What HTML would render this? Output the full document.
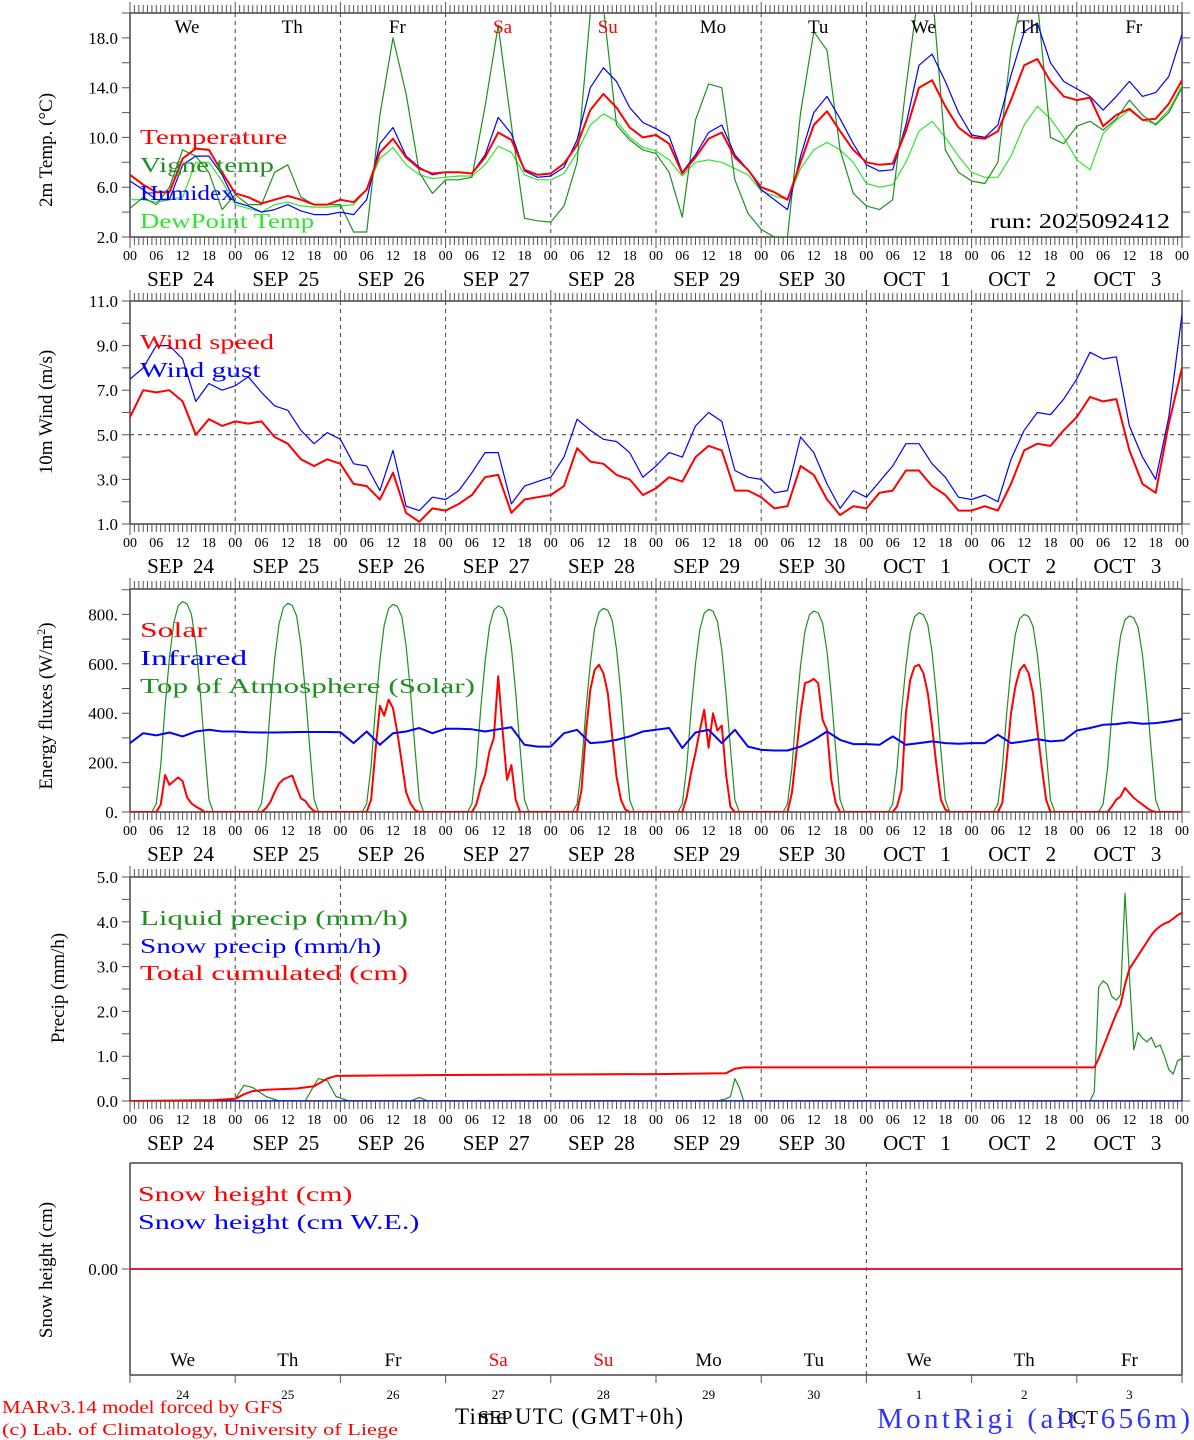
<!DOCTYPE html>
<html>
<head>
<meta charset="utf-8">
<style>
html,body{margin:0;padding:0;background:#fff;}
svg{display:block;}
text{font-family:"Liberation Serif",serif;}
</style>
</head>
<body>
<svg id="chart" width="1194" height="1440" viewBox="0 0 1194 1440" xmlns="http://www.w3.org/2000/svg"></svg>
<script>
// ---------------- DATA ----------------
const dayNames = ["We","Th","Fr","Sa","Su","Mo","Tu","We","Th","Fr"];
const dayNameColors = ["#000","#000","#000","#f00","#f00","#000","#000","#000","#000","#000"];
const dateLabels = ["SEP  24","SEP  25","SEP  26","SEP  27","SEP  28","SEP  29","SEP  30","OCT   1","OCT   2","OCT   3"];
const dayNumbers = ["24","25","26","27","28","29","30","1","2","3"];
const hourTickLabels = ["00","06","12","18"];

// Temperature panel (3-hourly, from SEP 24 00h)
const temperature = [7.0,6.2,5.6,5.6,8.3,9.1,9.0,7.2, 5.5,5.2,4.7,5.0,5.3,5.0,4.6,4.6, 5.0,4.8,5.8,8.8,9.9,8.4,7.5,7.1, 7.2,7.2,7.1,8.4,10.4,9.8,7.4,7.0, 7.1,7.9,9.4,12.2,13.5,12.4,10.8,10.0, 10.2,9.5,7.1,8.4,9.9,10.4,8.4,7.4, 6.0,5.6,5.0,8.0,11.0,12.1,10.5,9.0, 8.0,7.8,7.9,10.5,14.0,14.6,12.5,10.8, 10.0,9.9,10.5,13.0,15.8,16.3,14.5,13.3, 13.0,13.2,10.9,11.8,12.3,11.4,11.5,12.7,14.6];
const humidex = [6.5,5.8,5.0,5.0,7.8,8.5,8.5,7.0, 4.8,4.5,4.0,4.2,4.6,4.1,3.8,3.8, 4.0,3.8,5.0,9.5,10.8,8.5,7.6,7.0, 7.2,7.2,7.1,8.6,11.6,10.3,7.3,6.8, 6.9,7.6,9.8,14.0,15.6,14.5,12.4,11.2, 10.7,10.1,7.2,8.6,10.4,11.0,8.6,7.4, 5.8,5.0,4.2,8.5,12.0,13.3,11.5,9.5, 7.8,7.3,7.4,11.0,15.8,16.7,14.5,12.0, 10.2,10.0,11.0,15.0,18.5,19.2,16.0,14.5, 13.9,13.3,12.2,13.3,14.5,13.3,13.6,14.9,18.3];
const dewpoint = [5.0,5.0,4.8,5.0,5.2,8.0,8.0,6.5, 4.6,4.3,4.0,4.6,4.8,4.5,4.4,4.4, 4.5,4.6,5.8,8.3,9.2,7.8,7.0,6.7, 6.8,6.9,6.9,7.8,9.3,8.8,7.0,6.6, 6.6,7.1,8.8,11.0,11.9,11.3,10.0,9.2, 8.9,8.2,6.9,8.0,8.2,8.0,7.5,7.0, 5.7,5.3,5.0,7.5,9.0,9.6,9.0,8.0, 6.3,6.0,6.2,8.0,10.5,11.3,10.0,8.5, 7.2,6.8,6.8,8.5,11.0,12.5,11.5,10.0, 8.2,7.4,10.3,11.4,12.2,11.4,11.1,12.2,14.2];
const vigneTemp = [4.3,5.2,4.6,6.0,9.0,8.5,7.2,4.2, 5.4,4.6,4.6,7.2,7.8,5.2,4.6,4.6, 4.6,2.4,2.4,11.8,18.0,13.5,7.2,5.5, 6.6,6.6,6.8,12.5,19.0,11.0,3.5,3.3, 3.2,4.5,8.0,20.0,20.5,11.0,9.8,9.0, 8.7,7.2,3.6,11.4,14.3,14.0,6.6,3.9, 2.6,2.0,2.0,12.0,18.5,17.0,9.0,5.5, 4.5,4.2,5.0,14.0,22.0,22.0,9.0,7.2, 6.5,6.3,8.0,17.0,22.0,21.0,10.0,9.5, 10.9,11.3,10.6,11.5,13.0,11.8,11.0,12.0,14.0];

// Wind panel (3-hourly)
const windSpeed = [5.8,7.0,6.9,7.0,6.5,5.0,5.7,5.4, 5.6,5.5,5.6,4.9,4.6,3.9,3.6,3.9, 3.7,2.8,2.7,2.1,3.3,1.5,1.1,1.7, 1.6,1.9,2.3,3.1,3.2,1.5,2.1,2.2, 2.3,2.7,4.4,3.8,3.7,3.2,3.0,2.3, 2.6,3.1,2.9,4.0,4.5,4.3,2.5,2.5, 2.2,1.7,1.8,3.6,3.2,2.1,1.4,1.8, 1.7,2.4,2.5,3.4,3.4,2.7,2.3,1.6, 1.6,1.8,1.6,2.8,4.3,4.6,4.5,5.2, 5.8,6.7,6.5,6.6,4.3,2.8,2.4,5.5,8.0];
const windGust = [7.5,8.0,9.0,9.0,8.4,6.5,7.3,7.0, 7.2,7.6,6.9,6.3,6.1,5.2,4.6,5.1, 4.8,3.7,3.6,2.5,4.3,1.8,1.6,2.2, 2.1,2.5,3.3,4.2,4.2,1.9,2.7,2.9, 3.1,4.0,5.7,5.2,4.8,4.7,4.2,3.1, 3.6,4.2,4.0,5.4,6.0,5.6,3.4,3.1, 3.0,2.4,2.5,4.9,4.2,2.8,1.7,2.5, 2.2,2.9,3.6,4.6,4.6,3.7,3.1,2.2, 2.1,2.3,2.0,3.9,5.2,6.0,5.9,6.6, 7.5,8.7,8.4,8.5,5.4,4.0,3.0,5.8,10.4];
const windReference = 5.0;

// Energy panel: hourly values for hours 06..18 of each day
const solarByDay = [
 [0,30,150,110,125,140,125,60,35,22,12,0,0],
 [0,15,40,80,115,132,140,148,100,55,45,20,3],
 [0,50,250,430,390,455,420,320,200,80,35,8,0],
 [0,30,100,150,245,300,550,330,130,190,50,0,0],
 [0,90,320,495,575,596,562,481,306,144,50,10,0],
 [0,60,160,240,330,414,260,400,330,350,150,20,0],
 [0,77,239,400,522,528,539,521,373,333,130,36,0],
 [0,23,90,400,535,589,596,562,481,346,185,50,10],
 [0,36,211,400,508,575,596,562,481,333,185,50,0],
 [0,0,23,50,63,97,77,57,43,30,16,5,0]];
const toaByDay = [
 [34,187,426,622,767,835,852,843,801,682,494,264,51],
 [34,186,423,617,761,828,845,837,794,676,490,262,51],
 [34,185,421,614,757,824,841,833,791,673,488,261,50],
 [33,183,417,609,751,817,834,826,784,667,484,259,50],
 [33,182,413,602,743,809,825,817,776,660,479,256,50],
 [33,181,411,599,739,805,821,813,772,657,476,255,49],
 [33,179,407,594,733,798,814,806,765,651,472,252,49],
 [32,178,404,589,726,791,807,799,759,646,468,250,48],
 [32,176,400,584,720,784,800,792,752,640,464,248,48],
 [32,175,397,580,715,778,794,786,746,635,461,246,48]];
const infrared = [279,319,310,322,306,326,333,326, 326,323,322,322,323,324,324,324, 323,279,326,272,319,326,340,319, 337,337,335,326,335,343,272,265, 265,319,333,279,283,292,306,326, 333,340,259,322,333,279,333,265, 252,249,249,265,292,326,292,275, 275,272,306,272,279,286,279,276, 279,279,313,279,286,295,286,290, 330,340,353,356,363,357,360,367,376];

// Precip panel: (hour, value) pairs
const liquidHours = [0,20,24,26,28,31,34,40,42,43,45,47,50,64,66,68,134,136,137,138,139,140,216,217,218,219,220,221,222,223,224,225,226,227,228,229,230,231,232,233,234,235,236,237,238,239,240];
const liquidVals  = [0,0,0.05,0.35,0.3,0.1,0,0,0.35,0.5,0.45,0.1,0,0,0.08,0,0,0.05,0.1,0.5,0.3,0,0,0,0,0,0.2,2.55,2.68,2.6,2.33,2.25,2.37,4.64,2.8,1.14,1.53,1.4,1.32,1.42,1.2,1.25,1.0,0.7,0.6,0.9,0.95];
const totalHours = [0,19,24,26,28,31,38,42,45,47,72,120,136,138,140,220,221,222,223,224,225,226,227,228,229,230,231,232,233,234,235,236,237,238,239,240];
const totalVals  = [0,0.02,0.05,0.15,0.22,0.25,0.28,0.33,0.5,0.56,0.58,0.6,0.62,0.72,0.75,0.75,0.95,1.2,1.45,1.7,1.95,2.15,2.6,2.95,3.1,3.25,3.4,3.55,3.7,3.82,3.9,3.96,4.0,4.07,4.15,4.2];
const snowPrecipHours = [0,240];
const snowPrecipVals = [0,0];

// Snow panel (daily)
const snowHeight = [0,0,0,0,0,0,0,0,0,0,0];
const snowWE = [0,0,0,0,0,0,0,0,0,0,0];

// ---------------- LAYOUT ----------------
const NS = 'http://www.w3.org/2000/svg';
const svg = document.getElementById('chart');
const X0 = 130, X1 = 1182, HOURS = 240;
function xh(h){ return X0 + h*(X1-X0)/HOURS; }
const pTemp = {top:13,bottom:237,min:2,max:20,minor:2,major:[2,6,10,14,18],fmt:v=>v.toFixed(1)};
const pWind = {top:301,bottom:524,min:1,max:11,minor:1,major:[1,3,5,7,9,11],fmt:v=>v.toFixed(1)};
const pEn   = {top:589,bottom:812,min:0,max:903,minor:100,major:[0,200,400,600,800],fmt:v=>v.toFixed(0)+'.'};
const pPr   = {top:877,bottom:1101,min:0,max:5,minor:0.5,major:[0,1,2,3,4,5],fmt:v=>v.toFixed(1)};
function ys(p,v){ return p.bottom - (v-p.min)/(p.max-p.min)*(p.bottom-p.top); }

function el(tag, parent){ const e=document.createElementNS(NS,tag); (parent||svg).appendChild(e); return e; }
function line(x1,y1,x2,y2,stroke,w,parent){
  const e=el('line',parent);
  e.setAttribute('x1',x1);e.setAttribute('y1',y1);e.setAttribute('x2',x2);e.setAttribute('y2',y2);
  e.setAttribute('stroke',stroke);e.setAttribute('stroke-width',w);
  return e;
}
function text(str,x,y,size,fill,anchor,parent){
  const e=el('text',parent);
  e.setAttribute('x',x);e.setAttribute('y',y);e.setAttribute('font-size',size);
  e.setAttribute('fill',fill);e.setAttribute('text-anchor',anchor||'start');
  e.textContent=str;
  return e;
}

let clipId=0;
function frame(p, pname, withDates){
  const g=el('g');
  
  
  for(let d=1; d<10; d++){
    const l=line(xh(d*24),p.top,xh(d*24),p.bottom,'#444',1,g);
    l.setAttribute('stroke-dasharray','4,4');
    
    
  }
  const r=el('rect',g);
  r.setAttribute('x',X0);r.setAttribute('y',p.top);r.setAttribute('width',X1-X0);r.setAttribute('height',p.bottom-p.top);
  r.setAttribute('fill','none');r.setAttribute('stroke','#444');r.setAttribute('stroke-width',1.5);
  
  
  let dpath='';
  for(let h=0; h<=HOURS; h++){
    const x=xh(h).toFixed(1); const big=(h%24===0)?11:8;
    dpath+=`M${x} ${p.top-big}V${p.top}M${x} ${p.bottom}V${p.bottom+big}`;
  }
  const tp=el('path',g); tp.setAttribute('d',dpath); tp.setAttribute('stroke','#555'); tp.setAttribute('stroke-width',1);
  
  
  let ypath='';
  for(let v=p.min; v<=p.max+1e-9; v+=p.minor){
    const y=ys(p,v).toFixed(1);
    ypath+=`M${X0-8} ${y}H${X0}M${X1} ${y}H${X1+8}`;
  }
  const yp=el('path',g); yp.setAttribute('d',ypath); yp.setAttribute('stroke','#555'); yp.setAttribute('stroke-width',1);
  
  
  for(const v of p.major){
    const t=text(p.fmt(v),X0-12,ys(p,v)+6,17,'#000','end',g);
    
    
  }
  if(withDates){
    for(let h=0; h<=HOURS; h+=6){
      const t=text(hourTickLabels[(h/6)%4],xh(h),p.bottom+23,14,'#000','middle',g);
      
      
    }
    for(let d=0; d<10; d++){
      const t=text(dateLabels[d],xh(d*24+12)-2,p.bottom+49,21,'#000','middle',g);
      t.setAttribute('style','white-space:pre');
      
      
    }
  }
  const cp=el('clipPath'); cp.setAttribute('id','clip'+(++clipId));
  const cr=el('rect',cp); cr.setAttribute('x',X0);cr.setAttribute('y',p.top);cr.setAttribute('width',X1-X0);cr.setAttribute('height',p.bottom-p.top);
  return 'url(#clip'+clipId+')';
}
function series(p, hours, vals, color, w, name, clip){
  let d='';
  for(let i=0;i<vals.length;i++){ d+=(i?'L':'M')+xh(hours[i]).toFixed(1)+' '+ys(p,vals[i]).toFixed(1); }
  const e=el('path');
  e.setAttribute('d',d);e.setAttribute('fill','none');e.setAttribute('stroke',color);e.setAttribute('stroke-width',w);
  e.setAttribute('stroke-linejoin','round');
  if(clip) e.setAttribute('clip-path',clip);
  
  
  return e;
}
function legend(str,x,y,color){
  const t=text(str,x,y,21,color,'start');
  t.setAttribute('textLength',str.length*13.4);
  t.setAttribute('lengthAdjust','spacingAndGlyphs');
  t.setAttribute('style','white-space:pre');
  
  
}
function ytitle(str,x,y){
  const t=text(str,x,y,19,'#000','middle');
  t.setAttribute('transform',`rotate(-90 ${x} ${y})`);
  
  
  return t;
}
const h3 = temperature.map((_,i)=>i*3);
const hourly = []; for(let h=0;h<=HOURS;h++) hourly.push(h);
function expandDaily(byDay){ const out=[]; for(let h=0;h<=HOURS;h++){ const d=Math.floor(h/24), hr=h%24; out.push((d<10 && hr>=6 && hr<=18)?byDay[d][hr-6]:0);} return out; }

const GREEN='#1f8f1f', LIME='#2ee62e';

// ---------- Temperature ----------
let clip=frame(pTemp,'temperature-panel',true);
series(pTemp,h3,dewpoint,LIME,1.2,'dewpoint-line',clip);
series(pTemp,h3,vigneTemp,GREEN,1.2,'vigne-temp-line',clip);
series(pTemp,h3,humidex,'#0000ff',1.2,'humidex-line',clip);
series(pTemp,h3,temperature,'#ff0000',2,'temperature-line',clip);
for(let d=0; d<10; d++){
  const t=text(dayNames[d],xh(d*24+13),33,19,dayNameColors[d],'middle');
  
  
}
legend('Temperature',140,144,'#ff0000');
legend('Vigne temp',140,172,GREEN);
legend('Humidex',140,200,'#0000ff');
legend('DewPoint Temp',140,228,LIME);
(function(){ const t=text('run: 2025092412',1170,228,21,'#000','end'); t.setAttribute('textLength',180); t.setAttribute('lengthAdjust','spacingAndGlyphs');

 })();
ytitle('2m Temp. (\u00B0C)',52,150);

// ---------- Wind ----------
clip=frame(pWind,'wind-panel',true);
(function(){ const l=line(X0,ys(pWind,windReference),X1,ys(pWind,windReference),'#333',1); l.setAttribute('stroke-dasharray','4,4');

 })();
series(pWind,h3,windGust,'#0000ff',1.2,'wind-gust-line',clip);
series(pWind,h3,windSpeed,'#ff0000',2,'wind-speed-line',clip);
legend('Wind speed',140,349,'#ff0000');
legend('Wind gust',140,377,'#0000ff');
ytitle('10m Wind (m/s)',52,412);

// ---------- Energy ----------
clip=frame(pEn,'energy-panel',true);
series(pEn,hourly,expandDaily(toaByDay),GREEN,1.2,'toa-solar-line',clip);
series(pEn,hourly,expandDaily(solarByDay),'#ff0000',2,'solar-line',clip);
series(pEn,h3,infrared,'#0000ff',2,'infrared-line',clip);
legend('Solar',140,637,'#ff0000');
legend('Infrared',140,665,'#0000ff');
legend('Top of Atmosphere (Solar)',140,693,GREEN);
(function(){ const t=ytitle('Energy fluxes (W/m',52,706); const s=el('tspan',t); s.setAttribute('font-size',12); s.setAttribute('dy',-7); s.textContent='2'; const s2=el('tspan',t); s2.setAttribute('dy',7); s2.textContent=')'; })();

// ---------- Precip ----------
clip=frame(pPr,'precip-panel',true);
series(pPr,liquidHours,liquidVals,GREEN,1.2,'liquid-precip-line',clip);
series(pPr,snowPrecipHours,snowPrecipVals,'#0000ff',1.5,'snow-precip-line',clip);
series(pPr,totalHours,totalVals,'#ff0000',2,'total-cumulated-line',clip);
legend('Liquid precip (mm/h)',140,925,GREEN);
legend('Snow precip (mm/h)',140,953,'#0000ff');
legend('Total cumulated (cm)',140,980,'#ff0000');
ytitle('Precip (mm/h)',64,988);

// ---------- Snow ----------
const pSn={top:1163,bottom:1375,min:-1,max:1};
(function(){
  const g=el('g');
  
  
  line(X0,pSn.top,X1,pSn.top,'#444',1.5,g);
  line(X0,pSn.top,X0,pSn.bottom,'#444',1.5,g);
  line(X1,pSn.top,X1,pSn.bottom,'#444',1.5,g);
  line(X0,pSn.bottom,X1,pSn.bottom,'#444',1.5,g);
  const dl=line(xh(168),pSn.top,xh(168),pSn.bottom,'#444',1,g); dl.setAttribute('stroke-dasharray','4,4');
  for(let d=0; d<=10; d++) line(xh(d*24),pSn.bottom,xh(d*24),pSn.bottom+8,'#555',1,g);
  line(X0-8,ys(pSn,0),X0,ys(pSn,0),'#555',1,g);
  const t=text('0.00',X0-12,ys(pSn,0)+6,17,'#000','end',g);
  
  
  for(let d=0; d<10; d++){
    const n=text(dayNames[d],xh(d*24+12),1366,19,dayNameColors[d],'middle',g);
    
    
    const m=text(dayNumbers[d],xh(d*24+12),1399,13,'#000','middle',g);
    
    
  }
})();
const dailyHours=[0,24,48,72,96,120,144,168,192,216,240];
series(pSn,dailyHours,snowWE,'#0000ff',1.5,'snow-we-line');
series(pSn,dailyHours,snowHeight,'#ff0000',1.5,'snow-height-line');
legend('Snow height (cm)',138,1201,'#ff0000');
legend('Snow height (cm W.E.)',138,1229,'#0000ff');
ytitle('Snow height (cm)',52,1270);

// ---------- Footer ----------
(function(){
  let t=text('Time UTC (GMT+0h)',455,1424,23,'#000','start'); t.setAttribute('textLength',228);
  
  
  t=text('SEP',478,1424,20,'#000','start');
  
  
  t=text('OCT',1058,1424,20,'#000','start');
  
  
  t=text('MontRigi (alt. 656m)',877,1428,29,'#3333ff','start'); t.setAttribute('textLength',313);
  
  
  t=text('MARv3.14 model forced by GFS',2,1413,18,'#ff0000','start'); t.setAttribute('textLength',281); t.setAttribute('lengthAdjust','spacingAndGlyphs');
  
  
  t=text('(c) Lab. of Climatology, University of Liege',2,1435,17,'#ff0000','start'); t.setAttribute('textLength',396); t.setAttribute('lengthAdjust','spacingAndGlyphs');
  
  
})();
</script>
</body>
</html>
